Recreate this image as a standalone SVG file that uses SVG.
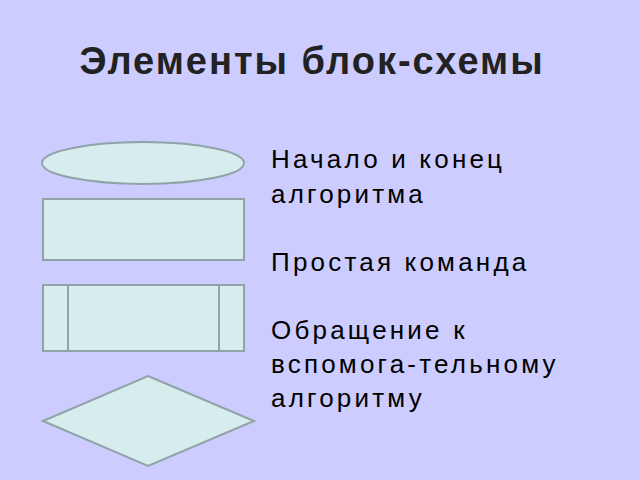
<svg xmlns="http://www.w3.org/2000/svg" width="640" height="480" viewBox="0 0 640 480">
<style>
.s{fill:#d7ecec;stroke:#8fa3a8;stroke-width:2}
.t{font-family:"Liberation Sans",Arial,sans-serif;font-size:26px;letter-spacing:3.2px;fill:#000}
</style>
<rect width="640" height="480" fill="#ccccff"/>
<text x="312" y="74" text-anchor="middle" font-family="Liberation Sans,Arial,sans-serif" font-size="38" letter-spacing="2" font-weight="bold" fill="#222">Элементы блок-схемы</text>
<g id="terminator"><ellipse class="s" cx="143" cy="163" rx="101" ry="21"/></g>
<g id="process"><rect class="s" x="43" y="199" width="201" height="61"/></g>
<g id="subprocess"><rect class="s" x="43" y="285" width="201" height="66"/><line class="s" x1="68" y1="285" x2="68" y2="351"/><line class="s" x1="219" y1="285" x2="219" y2="351"/></g>
<g id="decision"><polygon class="s" points="148,376 254,421 148,466 43,421"/></g>
<g id="connectors"></g>
<text class="t" x="271" y="168">Начало и конец</text>
<text class="t" x="271" y="203">алгоритма</text>
<text class="t" x="271" y="271">Простая команда</text>
<text class="t" x="271" y="339">Обращение к</text>
<text class="t" x="271" y="373">вспомога-тельному</text>
<text class="t" x="271" y="407">алгоритму</text>
</svg>
